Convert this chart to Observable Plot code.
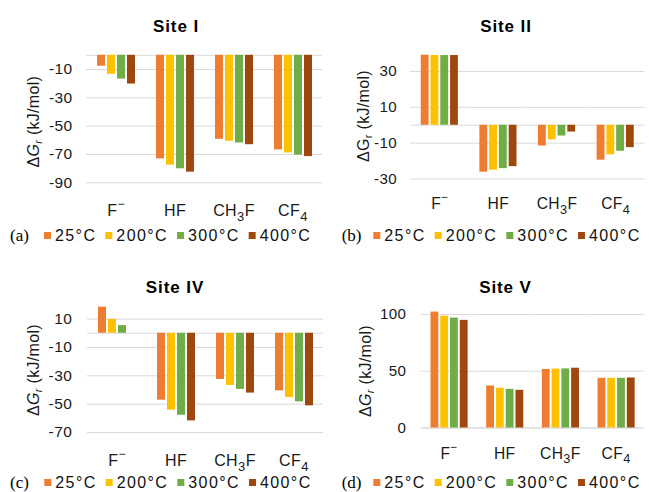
<!DOCTYPE html>
<html>
<head>
<meta charset="utf-8">
<script src="https://cdn.jsdelivr.net/npm/d3@7"></script>
<script src="https://cdn.jsdelivr.net/npm/@observablehq/plot@0.6"></script>
<style>
  body { margin: 0; background: #fff; }
  #fig { position: relative; width: 649px; height: 492px; overflow: hidden; background: #fff;
         font-family: "Liberation Sans", Arial, sans-serif; }
  .panel { position: absolute; overflow: hidden; }
  .panel svg { display: block; }
  #overlay { position: absolute; left: 0; top: 0; pointer-events: none; }
</style>
</head>
<body>
<div id="fig"></div>
<script>
// ---------- data ----------
const categories = ["F-", "HF", "CH3F", "CF4"];
const temps = ["25°C", "200°C", "300°C", "400°C"];
const tempColors = ["#ED7D31", "#FFC000", "#70AD47", "#9E480E"];
const siteTitles = ["Site I", "Site II", "Site IV", "Site V"];
const panelTags = ["(a)", "(b)", "(c)", "(d)"];

// rows follow categories, columns follow temps (kJ/mol)
const siteI  = [[-7.7, -13.4, -16.8, -20.3], [-73.1, -77.5, -80.1, -82.5], [-59.3, -60.7, -61.9, -63.1], [-66.8, -68.9, -70.4, -71.5]];
const siteII = [[39.1, 38.9, 38.9, 38.9], [-26.2, -25.1, -24.2, -23.1], [-11.6, -8.2, -6.0, -3.8], [-19.5, -16.5, -14.5, -12.5]];
const siteIV = [[18.4, 9.7, 5.4, 0], [-47.2, -54.2, -57.8, -61.8], [-32.6, -36.8, -39.6, -42.2], [-40.6, -45.3, -48.4, -51.2]];
const siteV  = [[102.2, 98.6, 96.9, 94.9], [37.0, 35.0, 34.1, 33.2], [51.6, 51.9, 52.1, 52.7], [43.8, 43.8, 43.8, 44.1]];

const yDomainI = [-90, 0],  yTicksI = [-90, -70, -50, -30, -10];
const yDomainII = [-30, 40], yTicksII = [-30, -10, 10, 30];
const yDomainIV = [-70, 20], yTicksIV = [-70, -50, -30, -10, 10];
const yDomainV = [0, 110],   yTicksV = [0, 50, 100];

const siteValues = [siteI, siteII, siteIV, siteV];
const siteDomains = [yDomainI, yDomainII, yDomainIV, yDomainV];
const siteTicks = [yTicksI, yTicksII, yTicksIV, yTicksV];

// ---------- layout (pixels) ----------
const layouts = [
  {left: 0,   top: 0,   w: 325,   h: 250, clip: 325, ml: 85, mr: 2, mt: 54.8, mb: 67.7, yPad: 14,   fxPad: 21.5, title: [176, 32.3],   ylab: [33, 121.7],  italic: true,  tag: [10, 241],    legend: [44, 241]},
  {left: 325, top: 0,   w: 327.5, h: 250, clip: 320, ml: 87, mr: 0, mt: 54.3, mb: 67.3, yPad: 13.7, fxPad: 19,   title: [506, 32.3],   ylab: [363, 116],   italic: false, tag: [341.7, 241], legend: [373.3, 241]},
  {left: 0,   top: 250, w: 325,   h: 242, clip: 325, ml: 87, mr: 2, mt: 54.4, mb: 60,   yPad: 15.3, fxPad: 22,   title: [175, 293.3],  ylab: [33.3, 370],  italic: true,  tag: [10, 488],    legend: [44.3, 488]},
  {left: 325, top: 250, w: 327.6, h: 242, clip: 320, ml: 97, mr: 0, mt: 54,   mb: 60.3, yPad: 15.2, fxPad: 20,   title: [505.5, 293.3],ylab: [365, 371],   italic: true,  tag: [341.7, 488], legend: [373.3, 488]}
];

const NS = "http://www.w3.org/2000/svg";
const fig = document.getElementById("fig");

function richCategory(textEl, s) {
  textEl.textContent = "";
  const parts = s.match(/[A-Za-z]+|\d+|-/g);
  let shift = 0;
  for (const part of parts) {
    const t = document.createElementNS(NS, "tspan");
    let target = 0, size = null, txt = part;
    if (/\d/.test(part)) { target = 5; size = "13px"; }
    else if (part === "-") { target = -8; size = "12px"; txt = "\u2212"; }
    if (target - shift !== 0) t.setAttribute("dy", target - shift);
    shift = target;
    if (size) t.setAttribute("font-size", size);
    t.textContent = txt;
    textEl.appendChild(t);
  }
}

siteValues.forEach((values, k) => {
  const L = layouts[k];
  const rows = [];
  categories.forEach((c, i) => temps.forEach((t, j) => rows.push({cat: c, temp: t, value: values[i][j]})));
  const chart = Plot.plot({
    width: L.w, height: L.h,
    marginLeft: L.ml, marginRight: L.mr, marginTop: L.mt, marginBottom: L.mb,
    style: {fontFamily: "'Liberation Sans', Arial, sans-serif", fontSize: "15.5px", color: "#1a1a1a", background: "transparent", letterSpacing: "0.4px"},
    fx: {domain: categories, padding: 0, axis: "bottom", label: null, tickSize: 0, tickPadding: L.fxPad},
    x: {domain: temps, paddingInner: 0.2, paddingOuter: 0.86, axis: null},
    y: {domain: siteDomains[k], ticks: siteTicks[k], label: null, tickSize: 0, tickPadding: L.yPad, tickFormat: d => String(d)},
    color: {domain: temps, range: tempColors},
    marks: [
      Plot.ruleY(siteTicks[k], {stroke: "#d9d9d9", strokeWidth: 1}),
      Plot.ruleY([0], {stroke: "#d9d9d9", strokeWidth: 1}),
      Plot.barY(rows, {fx: "cat", x: "temp", y: "value", fill: "temp"})
    ]
  });
  chart.querySelectorAll("text").forEach(el => {
    const s = el.textContent;
    if (categories.includes(s)) {
      el.setAttribute("font-size", "16px");
      richCategory(el, s);
    }
  });
  const div = document.createElement("div");
  div.className = "panel";
  div.style.left = L.left + "px";
  div.style.top = L.top + "px";
  div.style.width = L.clip + "px";
  div.style.height = L.h + "px";
  div.appendChild(chart);
  fig.appendChild(div);
});

// ---------- titles, axis labels, legends ----------
const ov = d3.select(fig).append("svg").attr("id", "overlay")
  .attr("width", 649).attr("height", 492)
  .style("font-family", "'Liberation Sans', Arial, sans-serif");

layouts.forEach((L, k) => {
  ov.append("text").attr("x", L.title[0]).attr("y", L.title[1])
    .attr("text-anchor", "middle").attr("font-weight", "bold").attr("font-size", 17)
    .attr("letter-spacing", "0.9px").attr("fill", "#000").text(siteTitles[k]);

  const yl = ov.append("text")
    .attr("transform", `translate(${L.ylab[0]},${L.ylab[1]}) rotate(-90)`)
    .attr("text-anchor", "middle").attr("dy", "0.35em").attr("font-size", 16)
    .attr("letter-spacing", "0.3px").attr("fill", "#1a1a1a");
  yl.append("tspan").text("\u0394");
  yl.append("tspan").attr("font-style", L.italic ? "italic" : "normal").text("G");
  yl.append("tspan").attr("font-style", L.italic ? "italic" : "normal").attr("font-size", 11).attr("dy", 3).text("r");
  yl.append("tspan").attr("dy", -3).text(" (kJ/mol)");

  ov.append("text").attr("x", L.tag[0]).attr("y", L.tag[1])
    .attr("font-family", "'Liberation Serif', 'Times New Roman', serif").attr("font-size", 17)
    .attr("fill", "#000").text(panelTags[k]);

  let x = L.legend[0];
  const base = L.legend[1];
  temps.forEach((t, j) => {
    ov.append("rect").attr("x", x).attr("y", base - 9).attr("width", 7).attr("height", 7).attr("fill", tempColors[j]);
    x += 7 + 4;
    const tx = ov.append("text").attr("x", x).attr("y", base).attr("font-size", 16)
      .attr("letter-spacing", "1.4px").attr("fill", "#111").text(t);
    x += tx.node().getComputedTextLength() + 9;
  });
});
</script>
</body>
</html>
